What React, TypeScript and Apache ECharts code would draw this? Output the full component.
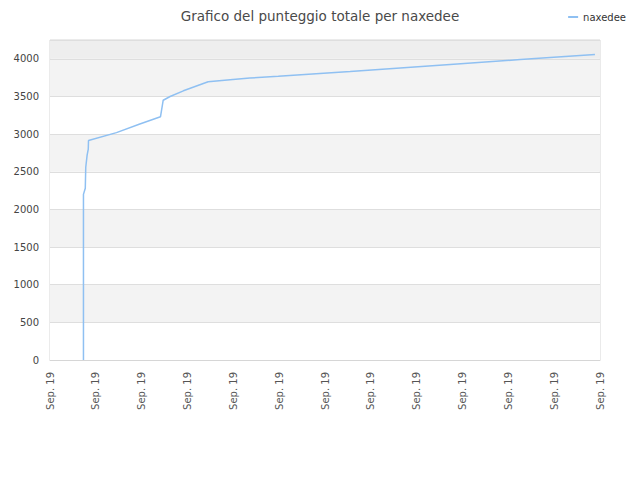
import React, { useEffect, useRef } from "react";
import * as echarts from "echarts";

const titleText = "Grafico del punteggio totale per naxedee";
const seriesName = "naxedee";
const xTickLabel = "Sep. 19";
// x positions in axis units (12 equal intervals, all labelled "Sep. 19")
const pointX = [0.73, 0.73, 0.77, 0.78, 0.81, 0.835, 0.84, 1.45, 1.96, 2.41, 2.47, 2.62, 2.91, 3.27, 3.45, 3.93, 4.36, 4.98, 6.55, 8.73, 10.26, 11.89];
const pointY = [0, 2200, 2280, 2560, 2720, 2800, 2915, 3020, 3135, 3230, 3450, 3500, 3575, 3655, 3695, 3722, 3745, 3768, 3833, 3926, 3990, 4058];
const bandColors = ["#ffffff", "#f3f3f3", "#ffffff", "#f3f3f3", "#ffffff", "#f3f3f3", "#ffffff", "#f3f3f3", "#eeeeee"];

export default function App() {
  const ref = useRef<HTMLDivElement>(null);
  useEffect(() => {
    if (!ref.current) return;
    const chart = echarts.init(ref.current, null, { renderer: "svg" });
    const data = pointX.map((x, i) => [x, pointY[i]]);
    chart.setOption({
      animation: false,
      backgroundColor: "#ffffff",
      textStyle: { fontFamily: "DejaVu Sans" },
      title: {
        text: titleText,
        left: "center",
        top: 4,
        textStyle: { fontSize: 13.5, fontWeight: "normal", color: "#4a4a4a", fontFamily: "DejaVu Sans" },
      },
      legend: {
        right: 9,
        top: 7,
        icon: "rect",
        itemWidth: 10,
        itemHeight: 2,
        itemGap: 6,
        textStyle: { fontSize: 10, color: "#333", fontFamily: "DejaVu Sans" },
        data: [seriesName],
      },
      grid: {
        left: 50,
        right: 40,
        top: 40,
        bottom: 120,
        show: true,
        borderColor: "#d6d6d6",
        borderWidth: 1,
      },
      xAxis: {
        type: "value",
        min: 0,
        max: 12,
        interval: 1,
        axisLine: { show: true, lineStyle: { color: "#d6d6d6" } },
        axisTick: { show: false },
        splitLine: { show: false },
        axisLabel: {
          rotate: 90,
          margin: 12,
          fontSize: 10,
          color: "#555",
          fontFamily: "DejaVu Sans",
          formatter: () => xTickLabel,
        },
      },
      yAxis: {
        type: "value",
        min: 0,
        max: 4250,
        interval: 500,
        axisLine: { show: false },
        axisTick: { show: false },
        axisLabel: {
          fontSize: 10,
          color: "#444",
          margin: 11,
          showMaxLabel: false,
          fontFamily: "DejaVu Sans",
          formatter: (v: number) => String(v),
        },
        splitLine: { show: true, lineStyle: { color: "#dedede", width: 1 } },
        splitArea: { show: true, areaStyle: { color: bandColors } },
      },
      series: [
        {
          name: seriesName,
          type: "line",
          data,
          showSymbol: false,
          symbol: "none",
          lineStyle: { color: "#8fc0f2", width: 1.5 },
          itemStyle: { color: "#8fc0f2" },
        },
      ],
    });
    return () => chart.dispose();
  }, []);
  return <div ref={ref} style={{ position: "fixed", left: 0, top: 0, width: 640, height: 480 }} />;
}
